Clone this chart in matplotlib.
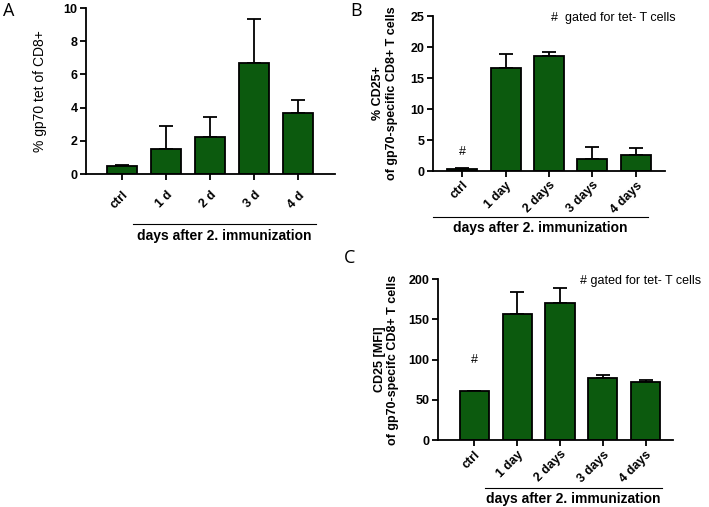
import matplotlib
matplotlib.use('Agg')
import matplotlib.pyplot as plt
from matplotlib.lines import Line2D

plt.rcParams['font.family'] = ['Liberation Sans', 'DejaVu Sans']

GREEN = '#0c5a0e'

# panel A
a_labels = ['ctrl', '1 d', '2 d', '3 d', '4 d']
a_means = [0.48, 1.5, 2.2, 6.7, 3.7]
a_err = [0.04, 1.4, 1.25, 2.65, 0.75]

# panel B
b_labels = ['ctrl', '1 day', '2 days', '3 days', '4 days']
b_means = [0.4, 16.6, 18.5, 2.0, 2.6]
b_err = [0.1, 2.2, 0.7, 1.8, 1.1]

# panel C
c_labels = ['ctrl', '1 day', '2 days', '3 days', '4 days']
c_means = [60.5, 156, 170, 76.5, 72]
c_err = [1.0, 28, 19, 4.5, 3.0]


def bar_panel(ax, labels, means, err, ymax, yticks, xlim, width, ticksize=9):
    x = list(range(len(labels)))
    ax.bar(x, means, width=width, color=GREEN, edgecolor='black', linewidth=1.3, zorder=2)
    ax.errorbar(x, means, yerr=[[0] * len(err), err], fmt='none', ecolor='black',
                elinewidth=1.3, capsize=5, capthick=1.3, zorder=1)
    ax.set_xlim(*xlim)
    ax.set_ylim(0, ymax)
    ax.set_yticks(yticks)
    ax.set_xticks(x)
    ax.set_xticklabels(labels, rotation=45, ha='right', rotation_mode='anchor',
                       fontsize=ticksize, fontweight='bold')
    for t in ax.get_yticklabels():
        t.set_fontsize(ticksize)
        t.set_fontweight('bold')
    for s in ['top', 'right']:
        ax.spines[s].set_visible(False)
    for s in ['left', 'bottom']:
        ax.spines[s].set_linewidth(1.3)
    ax.tick_params(direction='out', length=4, width=1.3, pad=2)


def group_line(ax, x0, x1, y, ty, tx, text='days after 2. immunization'):
    ax.add_line(Line2D([x0, x1], [y, y], transform=ax.transAxes, color='black',
                       linewidth=0.8, clip_on=False))
    ax.text(tx, ty, text, transform=ax.transAxes, ha='center', va='center',
            fontsize=10, fontweight='bold')


fig = plt.figure(figsize=(7.09, 5.07), dpi=100)

axA = fig.add_axes([0.1213, 0.6568, 0.3512, 0.3274])
bar_panel(axA, a_labels, a_means, a_err, 10, [0, 2, 4, 6, 8, 10], (-0.82, 4.84), 0.68)
axA.tick_params(axis='x', pad=7)
axA.set_ylabel('% gp70 tet of CD8+', fontsize=10)
axA.yaxis.set_label_coords(-0.155, 0.5)
group_line(axA, 0.189, 0.924, -0.30, -0.374, 0.556)

axB = fig.add_axes([0.6107, 0.6627, 0.3272, 0.3057])
bar_panel(axB, b_labels, b_means, b_err, 25, [0, 5, 10, 15, 20, 25], (-0.67, 4.67), 0.69)
axB.set_ylabel('% CD25+\nof gp70-specific CD8+ T cells', fontsize=9, fontweight='bold',
               linespacing=1.25)
axB.yaxis.set_label_coords(-0.15, 0.5)
axB.text(0, 3.0, '#', ha='center', va='center', fontsize=9)
axB.text(0.51, 0.985, '#  gated for tet- T cells', transform=axB.transAxes,
         ha='left', va='center', fontsize=9)
group_line(axB, 0.0, 0.927, -0.297, -0.37, 0.462)

axC = fig.add_axes([0.6178, 0.1321, 0.3315, 0.3176])
bar_panel(axC, c_labels, c_means, c_err, 200, [0, 50, 100, 150, 200], (-0.85, 4.64), 0.68)
axC.set_ylabel('CD25 [MFI]\nof gp70-specifc CD8+ T cells', fontsize=9, fontweight='bold',
               linespacing=1.15)
axC.yaxis.set_label_coords(-0.165, 0.5)
axC.text(0, 99, '#', ha='center', va='center', fontsize=9)
axC.text(0.605, 0.99, '# gated for tet- T cells', transform=axC.transAxes,
         ha='left', va='center', fontsize=9)
group_line(axC, 0.2, 0.953, -0.298, -0.365, 0.574)

fig.text(3 / 709, 1 - 11 / 507, 'A', fontsize=13, ha='left', va='center', family='Open Sans')
fig.text(350 / 709, 1 - 11 / 507, 'B', fontsize=13, ha='left', va='center', family='Open Sans')
fig.text(344 / 709, 1 - 258 / 507, 'C', fontsize=13, ha='left', va='center', family='Open Sans')

fig.savefig('out.png', dpi=100)
